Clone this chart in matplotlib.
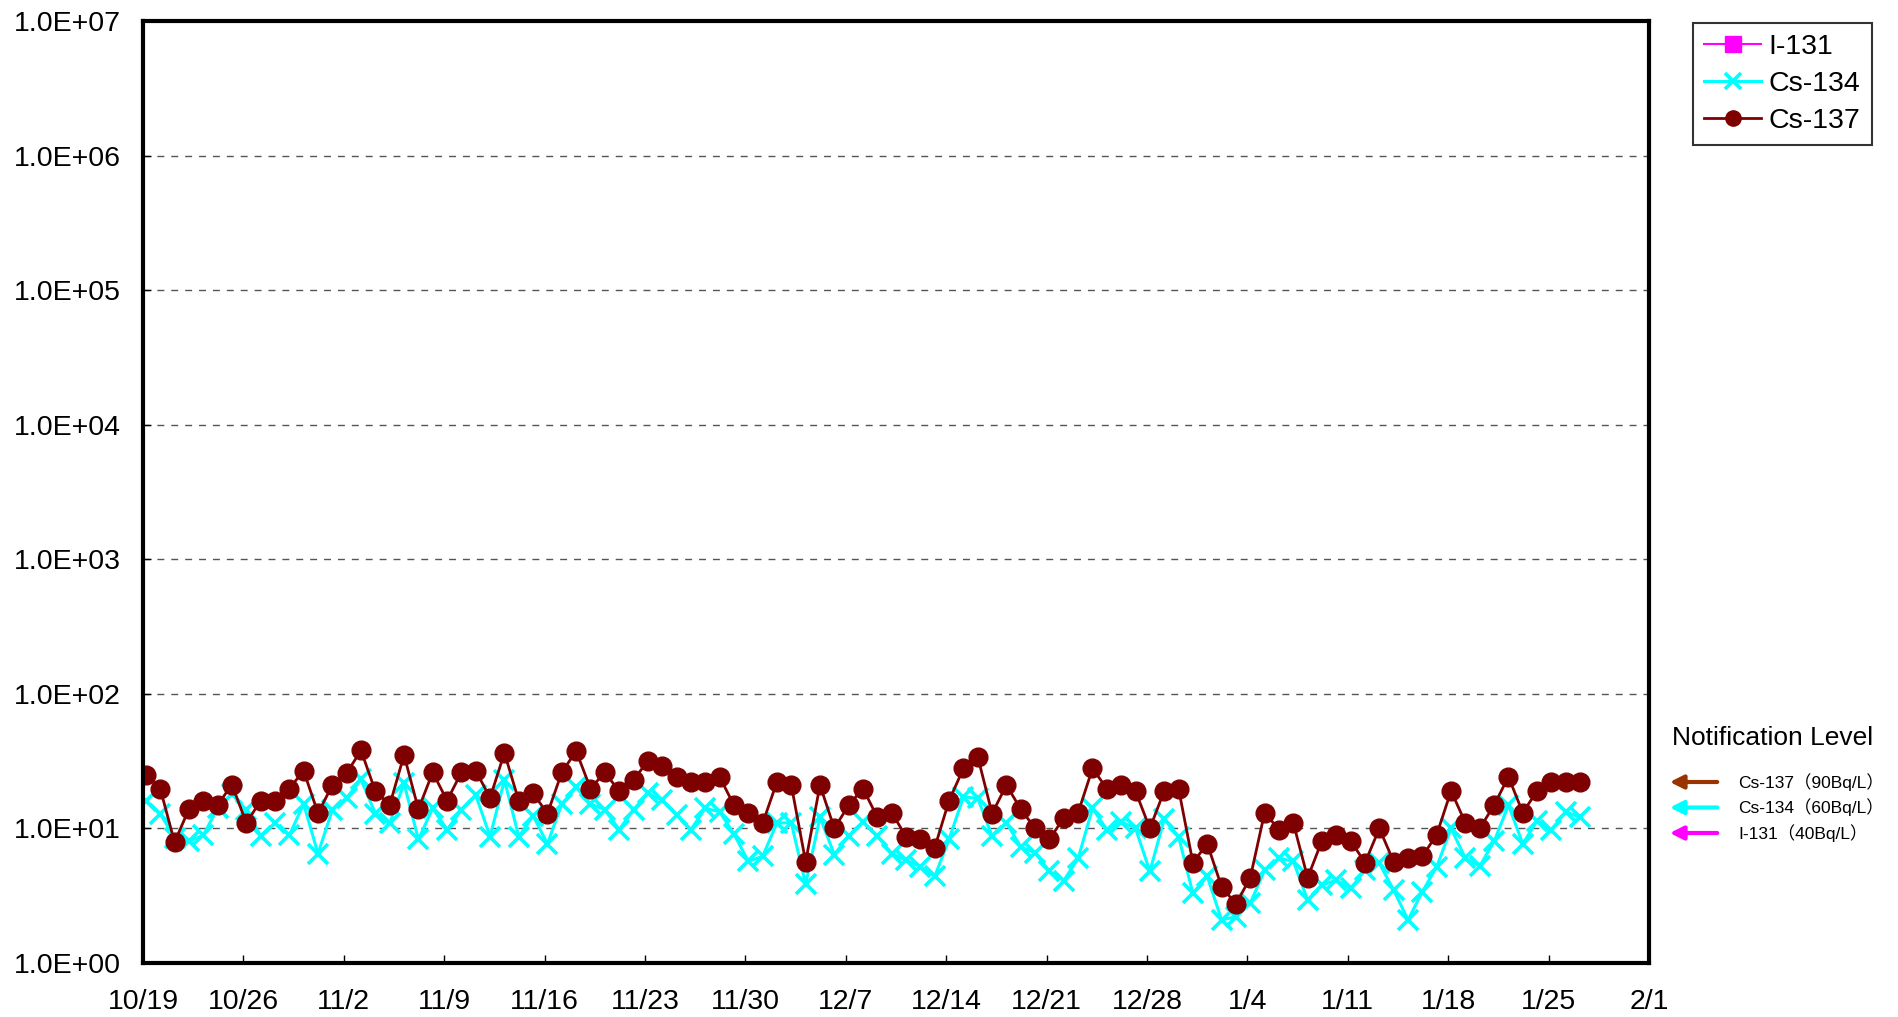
#!/usr/bin/env python

import numpy as np
import matplotlib
matplotlib.use("Agg")
import matplotlib.pyplot as plt
from matplotlib.ticker import FuncFormatter, FixedLocator

plt.rcParams['font.family'] = ['Liberation Sans', 'Noto Sans CJK JP', 'DejaVu Sans']

# daily samples, first one (10/18) falls just left of the axis
days = np.arange(-1, 101) + 0.2

cs137 = [27,
         24.9, 19.8, 7.9, 13.9, 16.0, 14.9, 21.2, 11.0, 16.0, 16.0,
         19.8, 26.8, 13.0, 20.9, 25.8, 38.0, 18.9, 14.9, 35.1, 13.9,
         26.1, 16.1, 26.1, 26.8, 16.9, 36.5, 16.0, 18.2, 12.9, 26.1,
         37.6, 19.8, 26.1, 18.9, 22.9, 31.8, 29.0, 24.2, 22.0, 22.0,
         24.2, 14.9, 13.1, 10.9, 22.2, 21.0, 5.65, 21.0, 10.0, 14.9,
         19.8, 12.1, 13.1, 8.7, 8.3, 7.2, 16.1, 27.9, 34.1, 12.9,
         21.0, 13.9, 10.0, 8.3, 12.0, 13.1, 27.9, 19.8, 21.0, 18.9,
         10.0, 19.0, 19.8, 5.56, 7.7, 3.69, 2.74, 4.3, 13.1, 9.8,
         11.0, 4.3, 8.1, 9.0, 8.1, 5.56, 10.0, 5.65, 6.05, 6.2,
         9.0, 19.0, 11.0, 10.0, 14.9, 24.2, 13.1, 19.0, 22.0, 22.0,
         22.0]

cs134 = [17,
         16.1, 12.9, 8.5, 8.0, 8.9, 14.1, 18.0, 13.7, 8.8, 10.9,
         8.9, 15.2, 6.5, 13.7, 16.9, 23.1, 12.9, 10.9, 21.6, 8.3,
         14.1, 9.8, 13.7, 17.7, 8.7, 22.9, 8.7, 12.4, 7.7, 15.2,
         20.2, 15.2, 13.8, 9.8, 13.8, 18.2, 16.2, 12.6, 9.8, 14.1,
         13.3, 9.1, 5.7, 6.2, 11.0, 11.0, 3.86, 12.1, 6.4, 8.8,
         11.2, 8.8, 6.5, 5.8, 5.2, 4.4, 8.3, 17.2, 16.7, 8.8,
         11.0, 7.3, 6.6, 4.8, 4.1, 6.0, 14.1, 9.8, 11.2, 10.0,
         4.8, 11.7, 8.7, 3.29, 4.4, 2.09, 2.21, 2.78, 4.9, 6.0,
         5.7, 2.94, 3.79, 4.13, 3.58, 4.9, 5.5, 3.48, 2.09, 3.39,
         5.2, 10.0, 6.0, 5.25, 8.0, 14.9, 7.7, 11.4, 9.8, 13.3,
         12.1]

# I-131 not detected in this period
i131 = []

tick_days = [0, 7, 14, 21, 28, 35, 42, 49, 56, 63, 70, 77, 84, 91, 98, 105]
tick_labels = ["10/19", "10/26", "11/2", "11/9", "11/16", "11/23", "11/30",
               "12/7", "12/14", "12/21", "12/28", "1/4", "1/11", "1/18",
               "1/25", "2/1"]

levels = ["Cs-137（90Bq/L）", "Cs-134（60Bq/L）", "I-131（40Bq/L）"]
level_colors = ["#993300", "#00FFFF", "#FF00FF"]

W, H = 1899, 1017
fig = plt.figure(figsize=(W / 100, H / 100), dpi=100)
ax = fig.add_axes([143 / W, 1 - 963 / H, (1649 - 143) / W, (963 - 21) / H])

ax.plot(i131, i131, color="#FF00FF", marker="s", lw=1.5, ms=10, label="I-131")
ax.plot(days, cs134, color="#00FFFF", marker="x", lw=2.2, ms=14, mew=2.6,
        label="Cs-134")
ax.plot(days, cs137, color="#7F0000", marker="o", lw=2.0, ms=13.5,
        label="Cs-137")

ax.set_yscale("log")
ax.set_ylim(1, 1e7)
ax.set_xlim(0, 105)

ax.yaxis.set_major_locator(FixedLocator([10.0 ** k for k in range(8)]))
ax.yaxis.set_minor_locator(FixedLocator([]))
ax.yaxis.set_major_formatter(FuncFormatter(lambda v, p: "1.0E+%02d" % round(np.log10(v))))
ax.set_xticks(tick_days)
ax.set_xticklabels(tick_labels)

ax.tick_params(axis="both", direction="in", length=6, width=1, labelsize=20.5)
ax.tick_params(axis="x", pad=19)
ax.tick_params(axis="y", pad=16)

for y in [10.0 ** k for k in range(1, 7)]:
    ax.axhline(y, color="#555555", lw=1, ls=(0, (5, 5)), zorder=0)

for s in ax.spines.values():
    s.set_linewidth(3)

leg = ax.legend(loc="upper left", bbox_to_anchor=(1693 / W, 1 - 23 / H),
                bbox_transform=fig.transFigure, fontsize=20.5, frameon=True,
                fancybox=False, edgecolor="black", handlelength=2.0,
                borderpad=0.4, labelspacing=0.38, handletextpad=0.25,
                borderaxespad=0)
leg.get_frame().set_linewidth(1.5)
for h in leg.legend_handles:
    h.set_markersize(11)

# notification level block
fig.text(1773 / W, 1 - 738 / H, "Notification Level", fontsize=19,
         ha="center", va="center")
for i, (txt, c) in enumerate(zip(levels, level_colors)):
    yy = H - (782 + i * 25.5)
    ax.annotate("", xy=(1667, yy), xytext=(1720, yy), xycoords="figure pixels",
                textcoords="figure pixels",
                arrowprops=dict(arrowstyle="-|>,head_length=0.8,head_width=0.4",
                                color=c, lw=3))
    fig.text(1738 / W, yy / H, txt, fontsize=12.5, ha="left", va="center")

fig.savefig("out.png", dpi=100)
